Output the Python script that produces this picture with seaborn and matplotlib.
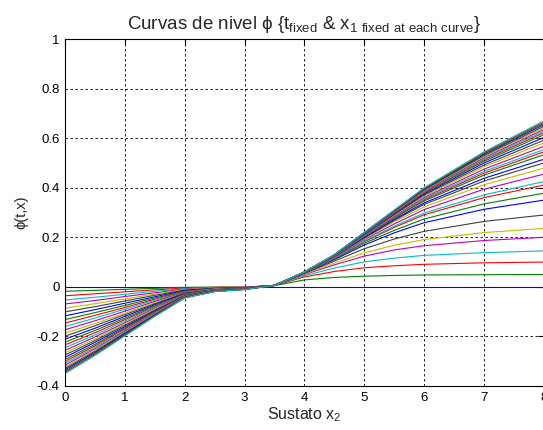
import matplotlib
matplotlib.use("Agg")
import matplotlib.pyplot as plt
import pandas as pd
import seaborn as sns

# sample positions along the x2 axis (Sustato x2)
x2_samples = [0, 0.5, 1, 1.5, 2, 2.5, 3, 3.5, 4, 4.5, 5, 5.5, 6, 7, 8]

# vertical cross-sections of the family of curves (one value per curve, 32 curves)
phi_at_x0 = [0, -0.018, -0.036, -0.053, -0.069, -0.086, -0.101, -0.117, -0.132, -0.146, -0.160, -0.173,
             -0.187, -0.199, -0.211, -0.223, -0.234, -0.245, -0.256, -0.266, -0.275, -0.284, -0.293, -0.301,
             -0.309, -0.316, -0.323, -0.329, -0.335, -0.341, -0.346, -0.350]
phi_at_x0_5 = [0, -0.014, -0.028, -0.042, -0.055, -0.068, -0.080, -0.092, -0.104, -0.115, -0.126, -0.137,
               -0.148, -0.157, -0.167, -0.176, -0.185, -0.194, -0.202, -0.210, -0.217, -0.224, -0.232, -0.238,
               -0.244, -0.250, -0.255, -0.260, -0.265, -0.269, -0.273, -0.277]
phi_at_x1 = [0, -0.010, -0.020, -0.030, -0.039, -0.049, -0.057, -0.066, -0.075, -0.083, -0.090, -0.098,
             -0.106, -0.112, -0.119, -0.126, -0.132, -0.138, -0.145, -0.150, -0.155, -0.161, -0.166, -0.170,
             -0.175, -0.179, -0.183, -0.186, -0.189, -0.193, -0.196, -0.198]
phi_at_x1_5 = [0, -0.006, -0.012, -0.018, -0.024, -0.029, -0.034, -0.040, -0.045, -0.050, -0.054, -0.059,
               -0.064, -0.068, -0.072, -0.076, -0.080, -0.083, -0.087, -0.090, -0.094, -0.097, -0.100, -0.102,
               -0.105, -0.107, -0.110, -0.112, -0.114, -0.116, -0.118, -0.119]
phi_at_x2 = [0, -0.002, -0.005, -0.007, -0.009, -0.011, -0.013, -0.015, -0.017, -0.019, -0.021, -0.022,
             -0.024, -0.025, -0.027, -0.028, -0.030, -0.031, -0.032, -0.034, -0.035, -0.036, -0.037, -0.038,
             -0.039, -0.040, -0.041, -0.042, -0.043, -0.043, -0.044, -0.045]
phi_at_x2_5 = [0, -0.001, -0.002, -0.003, -0.004, -0.005, -0.006, -0.006, -0.007, -0.008, -0.009, -0.010,
               -0.010, -0.011, -0.012, -0.012, -0.013, -0.013, -0.014, -0.015, -0.015, -0.016, -0.016, -0.017,
               -0.017, -0.017, -0.018, -0.018, -0.018, -0.019, -0.019, -0.019]
phi_at_x3 = [0, -0.001, -0.001, -0.002, -0.002, -0.003, -0.003, -0.004, -0.004, -0.004, -0.005, -0.005,
             -0.006, -0.006, -0.006, -0.007, -0.007, -0.007, -0.008, -0.008, -0.008, -0.009, -0.009, -0.009,
             -0.009, -0.010, -0.010, -0.010, -0.010, -0.010, -0.010, -0.011]
phi_at_x3_5 = [0, 0.005, 0.006, 0.006, 0.006, 0.006, 0.006, 0.006, 0.006, 0.006, 0.006, 0.006,
               0.006, 0.006, 0.006, 0.006, 0.006, 0.006, 0.006, 0.006, 0.006, 0.006, 0.006, 0.006,
               0.006, 0.006, 0.006, 0.006, 0.006, 0.006, 0.006, 0.006]
phi_at_x4 = [0, 0.028, 0.040, 0.045, 0.050, 0.052, 0.054, 0.056, 0.056, 0.057, 0.057, 0.058,
             0.058, 0.058, 0.058, 0.059, 0.059, 0.059, 0.059, 0.059, 0.059, 0.059, 0.060, 0.060,
             0.060, 0.060, 0.060, 0.060, 0.060, 0.060, 0.060, 0.060]
phi_at_x4_5 = [0, 0.038, 0.062, 0.076, 0.089, 0.096, 0.104, 0.110, 0.113, 0.116, 0.117, 0.119,
               0.121, 0.122, 0.123, 0.124, 0.125, 0.125, 0.126, 0.126, 0.127, 0.127, 0.128, 0.128,
               0.128, 0.129, 0.129, 0.129, 0.129, 0.130, 0.130, 0.130]
phi_at_x5 = [0, 0.043, 0.077, 0.101, 0.124, 0.137, 0.154, 0.169, 0.176, 0.182, 0.185, 0.191,
             0.195, 0.198, 0.200, 0.203, 0.205, 0.206, 0.208, 0.210, 0.211, 0.212, 0.214, 0.215,
             0.215, 0.216, 0.217, 0.218, 0.218, 0.219, 0.220, 0.220]
phi_at_x5_5 = [0, 0.046, 0.085, 0.116, 0.149, 0.168, 0.193, 0.218, 0.228, 0.240, 0.245, 0.254,
               0.262, 0.268, 0.272, 0.277, 0.280, 0.283, 0.286, 0.289, 0.292, 0.295, 0.297, 0.299,
               0.301, 0.302, 0.304, 0.305, 0.307, 0.308, 0.309, 0.310]
phi_at_x6 = [0, 0.048, 0.091, 0.127, 0.166, 0.191, 0.224, 0.259, 0.274, 0.291, 0.298, 0.312,
             0.323, 0.333, 0.339, 0.347, 0.352, 0.356, 0.361, 0.366, 0.371, 0.375, 0.379, 0.382,
             0.385, 0.387, 0.390, 0.392, 0.395, 0.396, 0.398, 0.400]
phi_at_x7 = [0, 0.049, 0.097, 0.138, 0.187, 0.219, 0.264, 0.313, 0.335, 0.360, 0.371, 0.394,
             0.412, 0.427, 0.438, 0.451, 0.459, 0.466, 0.475, 0.485, 0.492, 0.500, 0.507, 0.513,
             0.517, 0.522, 0.526, 0.530, 0.535, 0.538, 0.542, 0.545]
phi_at_x8 = [0, 0.050, 0.100, 0.145, 0.200, 0.236, 0.290, 0.350, 0.378, 0.411, 0.425, 0.455,
             0.479, 0.500, 0.515, 0.533, 0.545, 0.554, 0.567, 0.581, 0.592, 0.603, 0.614, 0.622,
             0.628, 0.635, 0.642, 0.648, 0.655, 0.660, 0.665, 0.670]

x_ticks = [0, 1, 2, 3, 4, 5, 6, 7, 8]
x_tick_labels = ["0", "1", "2", "3", "4", "5", "6", "7", "8"]
y_ticks = [-0.4, -0.2, 0, 0.2, 0.4, 0.6, 0.8, 1]
y_tick_labels = ["-0.4", "-0.2", "0", "0.2", "0.4", "0.6", "0.8", "1"]

# classic MATLAB line colour order
matlab_colors = [(0, 0, 1), (0, 0.5, 0), (1, 0, 0), (0, 0.75, 0.75),
                 (0.75, 0, 0.75), (0.75, 0.75, 0), (0.25, 0.25, 0.25)]

columns = [phi_at_x0, phi_at_x0_5, phi_at_x1, phi_at_x1_5, phi_at_x2, phi_at_x2_5, phi_at_x3,
           phi_at_x3_5, phi_at_x4, phi_at_x4_5, phi_at_x5, phi_at_x5_5, phi_at_x6, phi_at_x7, phi_at_x8]

rows = []
for xv, col in zip(x2_samples, columns):
    for k, v in enumerate(col):
        rows.append((f"c{k:02d}", xv, v))
df = pd.DataFrame(rows, columns=["curve", "x2", "phi"])
curve_names = [f"c{k:02d}" for k in range(len(phi_at_x0))]
palette = {name: matlab_colors[i % len(matlab_colors)] for i, name in enumerate(curve_names)}

sns.set_style("white")
plt.rcParams["font.family"] = ["Liberation Sans", "DejaVu Sans"]
plt.rcParams["mathtext.default"] = "regular"

fig = plt.figure(figsize=(5.43, 4.30), dpi=100)
ax = fig.add_axes([65 / 543, 44 / 430, 479 / 543, 347 / 430])

sns.lineplot(data=df, x="x2", y="phi", hue="curve", hue_order=curve_names, palette=palette,
             estimator=None, legend=False, linewidth=0.8, ax=ax)

ax.set_xlim(0, 8)
ax.set_ylim(-0.4, 1)
ax.set_xticks(x_ticks)
ax.set_xticklabels(x_tick_labels)
ax.set_yticks(y_ticks)
ax.set_yticklabels(y_tick_labels)
ax.grid(True, linestyle=(0, (3, 3)), color="black", linewidth=0.6)
ax.set_axisbelow(True)
ax.tick_params(direction="in", top=True, right=True, length=4, width=0.8,
               labelsize=9.5, colors="black", pad=4)
for s in ax.spines.values():
    s.set_color("black")
    s.set_linewidth(0.8)

ax.set_title(r"Curvas de nivel ϕ {t$_{fixed}$ & x$_{1\ fixed\ at\ each\ curve}$}", fontsize=13.5, pad=7)
ax.set_xlabel(r"Sustato x$_2$", fontsize=11.5, labelpad=1)
ax.set_ylabel("ϕ(t,x)", fontsize=10.5, labelpad=6)

fig.savefig("out.png", dpi=100)
